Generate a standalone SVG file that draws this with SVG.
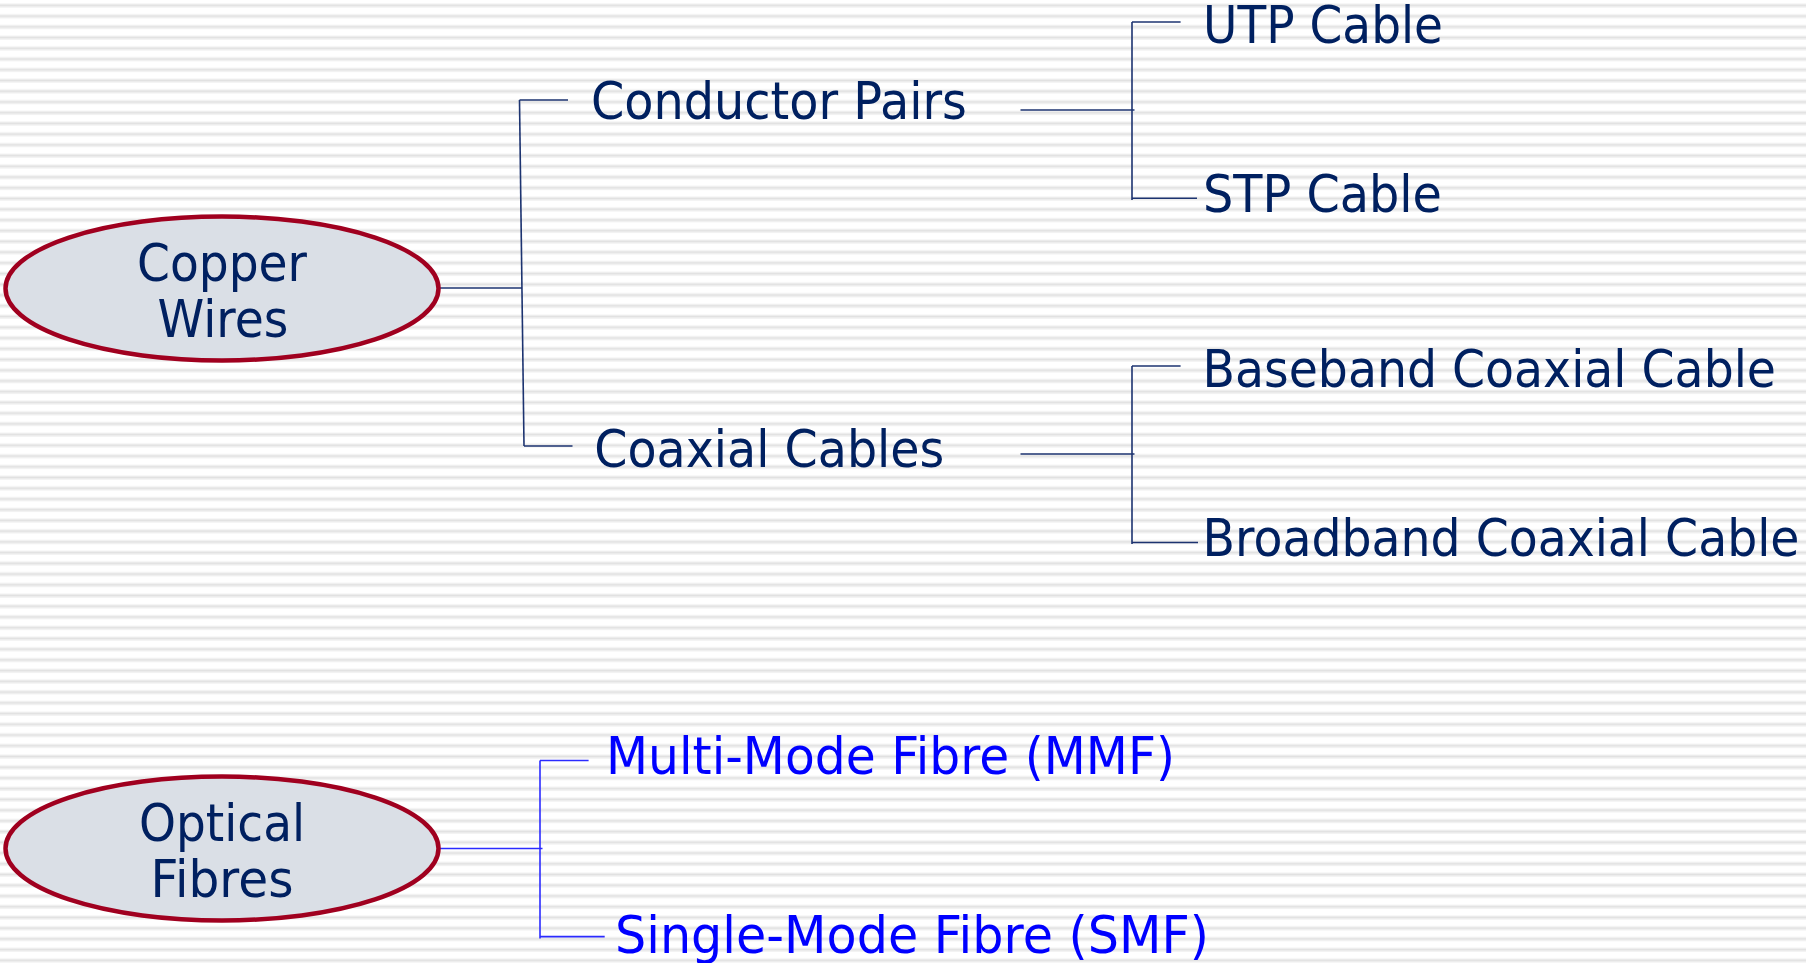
<svg xmlns="http://www.w3.org/2000/svg" width="1806" height="963" viewBox="0 0 1806 963">
<defs>
<pattern id="stripes" patternUnits="userSpaceOnUse" x="0" y="0" width="20" height="10.73">
<rect x="0" y="3.5" width="20" height="1" fill="#eeeeee"/>
<rect x="0" y="4.5" width="20" height="2" fill="#e1e1e1"/>
<rect x="0" y="6.5" width="20" height="1" fill="#eeeeee"/>
</pattern>
<style>
.bg{fill:#ffffff}
.oval{fill:#dadfe6;stroke:#a0001f;stroke-width:4.5}
.t{font-family:"DejaVu Sans","Verdana",sans-serif;font-size:51px;fill:#002060}
.tb{font-family:"DejaVu Sans","Verdana",sans-serif;font-size:51px;fill:#0000ff}
.c{text-anchor:middle}
.ln{stroke:#1c3370;stroke-width:1.6;fill:none}
.lb{stroke:#2b2bff;stroke-width:1.6;fill:none}
</style>
</defs>
<rect class="bg" x="0" y="0" width="1806" height="963"/>
<rect x="0" y="0" width="1806" height="963" fill="url(#stripes)"/>

<g id="connectors">
<line class="ln" x1="439" y1="288" x2="522" y2="288"/>
<line class="ln" x1="519.5" y1="100" x2="524" y2="446"/>
<line class="ln" x1="519.5" y1="100" x2="568" y2="100"/>
<line class="ln" x1="524" y1="446" x2="572.5" y2="446"/>
<line class="ln" x1="1020.5" y1="110" x2="1134.5" y2="110"/>
<line class="ln" x1="1132" y1="22" x2="1132" y2="200"/>
<line class="ln" x1="1132" y1="22" x2="1180.6" y2="22"/>
<line class="ln" x1="1132" y1="198.3" x2="1197" y2="198.3"/>
<line class="ln" x1="1020.5" y1="454" x2="1134.5" y2="454"/>
<line class="ln" x1="1132" y1="366" x2="1132" y2="544"/>
<line class="ln" x1="1132" y1="366" x2="1180.6" y2="366"/>
<line class="ln" x1="1132" y1="542.5" x2="1198" y2="542.5"/>
<line class="lb" x1="439" y1="848.5" x2="542.5" y2="848.5"/>
<line class="lb" x1="540" y1="760.5" x2="540" y2="938.5"/>
<line class="lb" x1="540" y1="760.5" x2="588.6" y2="760.5"/>
<line class="lb" x1="540" y1="936.6" x2="604.7" y2="936.6"/>
</g>

<g id="copper-wires">
<ellipse class="oval" cx="222" cy="288.5" rx="216.5" ry="72"/>
<text class="t c" x="222" y="280.5" textLength="170" lengthAdjust="spacingAndGlyphs">Copper</text>
<text class="t c" x="223" y="336.5" textLength="131" lengthAdjust="spacingAndGlyphs">Wires</text>
</g>

<g id="optical-fibres">
<ellipse class="oval" cx="222" cy="848.5" rx="216.5" ry="72"/>
<text class="t c" x="222" y="840.5" textLength="166" lengthAdjust="spacingAndGlyphs">Optical</text>
<text class="t c" x="222" y="896.5" textLength="143" lengthAdjust="spacingAndGlyphs">Fibres</text>
</g>

<g id="conductor-pairs">
<text class="t" x="591" y="119" textLength="376" lengthAdjust="spacingAndGlyphs">Conductor Pairs</text>
</g>
<g id="utp-cable">
<text class="t" x="1203" y="42.5" textLength="240" lengthAdjust="spacingAndGlyphs">UTP Cable</text>
</g>
<g id="stp-cable">
<text class="t" x="1203" y="211.5" textLength="239" lengthAdjust="spacingAndGlyphs">STP Cable</text>
</g>
<g id="coaxial-cables">
<text class="t" x="594.3" y="467" textLength="350" lengthAdjust="spacingAndGlyphs">Coaxial Cables</text>
</g>
<g id="baseband-coaxial-cable">
<text class="t" x="1202.5" y="386.5" textLength="573.5" lengthAdjust="spacingAndGlyphs">Baseband Coaxial Cable</text>
</g>
<g id="broadband-coaxial-cable">
<text class="t" x="1202.5" y="556" textLength="597" lengthAdjust="spacingAndGlyphs">Broadband Coaxial Cable</text>
</g>
<g id="multi-mode-fibre">
<text class="tb" x="606" y="774" textLength="569" lengthAdjust="spacingAndGlyphs">Multi-Mode Fibre (MMF)</text>
</g>
<g id="single-mode-fibre">
<text class="tb" x="615" y="952.5" textLength="594" lengthAdjust="spacingAndGlyphs">Single-Mode Fibre (SMF)</text>
</g>
</svg>
